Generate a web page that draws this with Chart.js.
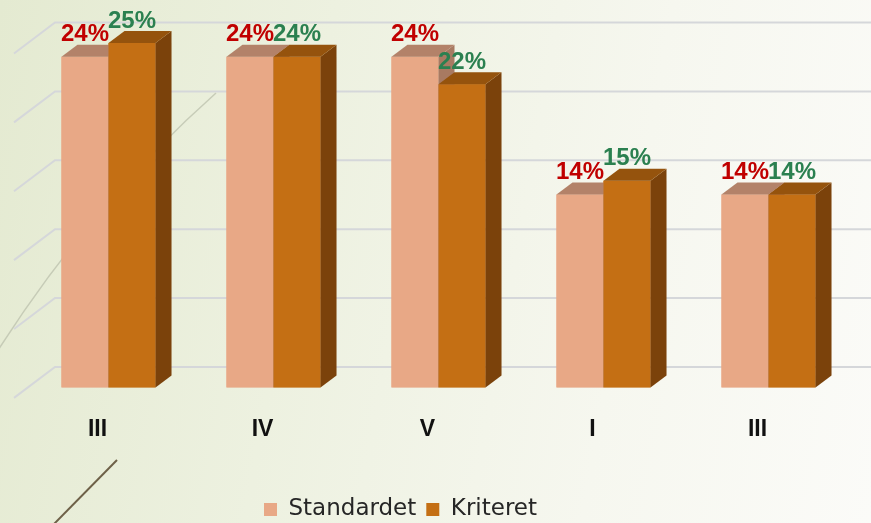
<!DOCTYPE html>
<html>
<head>
<meta charset="utf-8">
<script src="https://cdn.jsdelivr.net/npm/chart.js@4.4.1/dist/chart.umd.min.js"></script>
<style>
   html, body { margin: 0; padding: 0; }
   body {
      width: 871px; height: 523px; overflow: hidden;
      background: linear-gradient(100deg, #e4ead1 0%, #edf1e0 35%, #f6f7ef 70%, #fbfbf8 100%);
   }
</style>
</head>
<body>
<canvas id="chart1" width="871" height="523"></canvas>
<script>
const categories = ["III", "IV", "V", "I", "III"];
const standardet = [24, 24, 24, 14, 14];
const kriteret = [25, 24, 22, 15, 14];
const yTicks = [0, 5, 10, 15, 20, 25];

const faceColors = [
   { front: "#e8a886", top: "#b38269", side: "#a87a62", label: "#c00000" },
   { front: "#c46f14", top: "#95530d", side: "#7b420b", label: "#2b8050" },
];
const depth = { dx: 16, dy: 12 };

// slide decorations behind the chart
const backdrop = {
   id: "backdrop",
   beforeDraw(chart) {
      const ctx = chart.ctx;
      ctx.save();
      ctx.strokeStyle = "rgba(190, 195, 175, 0.8)";
      ctx.lineWidth = 1.5;
      ctx.beginPath();
      ctx.moveTo(-5, 355);
      ctx.quadraticCurveTo(90, 205, 216, 93);
      ctx.stroke();

      ctx.strokeStyle = "#6e6148";
      ctx.lineWidth = 2;
      ctx.beginPath();
      ctx.moveTo(54, 524);
      ctx.lineTo(117, 460);
      ctx.stroke();
      ctx.restore();
   }
};

// back wall grid with perspective lines on the left
const wallGrid = {
   id: "wallGrid",
   beforeDatasetsDraw(chart) {
      const ctx = chart.ctx;
      const y = chart.scales.y;
      ctx.save();
      ctx.strokeStyle = "#d5d7da";
      ctx.lineWidth = 2;
      yTicks.forEach((t) => {
         const py = y.getPixelForValue(t) - 20.5;
         ctx.beginPath();
         ctx.moveTo(14, py + 31);
         ctx.lineTo(55, py);
         ctx.lineTo(chart.width, py);
         ctx.stroke();
      });
      ctx.restore();
   }
};

// redraw bars in dataset order with top and side faces, then value labels
const bars3d = {
   id: "bars3d",
   afterDatasetsDraw(chart) {
      const ctx = chart.ctx;
      ctx.save();
      chart.data.datasets.forEach((ds, i) => {
         const c = faceColors[i];
         chart.getDatasetMeta(i).data.forEach((bar) => {
            const l = bar.x - bar.width / 2;
            const r = bar.x + bar.width / 2;
            const t = bar.y;
            const b = bar.base;
            bar.draw(ctx);
            ctx.fillStyle = c.side;
            ctx.beginPath();
            ctx.moveTo(r, t);
            ctx.lineTo(r + depth.dx, t - depth.dy);
            ctx.lineTo(r + depth.dx, b - depth.dy);
            ctx.lineTo(r, b);
            ctx.closePath();
            ctx.fill();
            ctx.fillStyle = c.top;
            ctx.beginPath();
            ctx.moveTo(l, t);
            ctx.lineTo(r, t);
            ctx.lineTo(r + depth.dx, t - depth.dy);
            ctx.lineTo(l + depth.dx, t - depth.dy);
            ctx.closePath();
            ctx.fill();
         });
      });

      ctx.font = "bold 24px 'Liberation Sans'";
      ctx.textAlign = "center";
      ctx.textBaseline = "alphabetic";
      chart.data.datasets.forEach((ds, i) => {
         ctx.fillStyle = faceColors[i].label;
         chart.getDatasetMeta(i).data.forEach((bar, j) => {
            ctx.fillText(ds.data[j] + "%", bar.x, bar.y - depth.dy - 3.5);
         });
      });
      ctx.restore();
   }
};

// legend sits a little left of the canvas centre and lower
const legendShift = {
   id: "legendShift",
   afterLayout(chart) {
      chart.legend.left -= 38;
      chart.legend.right -= 38;
      chart.legend.top += 25;
      chart.legend.bottom += 25;
   }
};

const chart = new Chart(document.querySelector("#chart1"), {
   type: "bar",
   data: {
      labels: categories,
      datasets: [
         { label: "Standardet", data: standardet, backgroundColor: faceColors[0].front },
         { label: "Kriteret", data: kriteret, backgroundColor: faceColors[1].front },
      ]
   },
   options: {
      responsive: false,
      animation: false,
      layout: { padding: { top: 43, left: 26, right: 20, bottom: 17 } },
      datasets: {
         bar: { barPercentage: 1, categoryPercentage: 0.57, borderWidth: 0 }
      },
      scales: {
         x: {
            grid: { display: false },
            border: { display: false },
            ticks: {
               color: "#111",
               font: { family: "Liberation Sans", size: 23, weight: "bold" },
               padding: 20,
               labelOffset: -11,
               maxRotation: 0
            }
         },
         y: {
            display: false,
            min: 0,
            max: 25,
            ticks: { stepSize: 5 }
         }
      },
      plugins: {
         tooltip: { enabled: false },
         legend: {
            position: "bottom",
            labels: {
               boxWidth: 13,
               boxHeight: 13,
               padding: 10,
               color: "#262626",
               font: { family: "DejaVu Sans", size: 23 }
            }
         }
      }
   },
   plugins: [backdrop, wallGrid, bars3d, legendShift]
});
</script>
</body>
</html>
